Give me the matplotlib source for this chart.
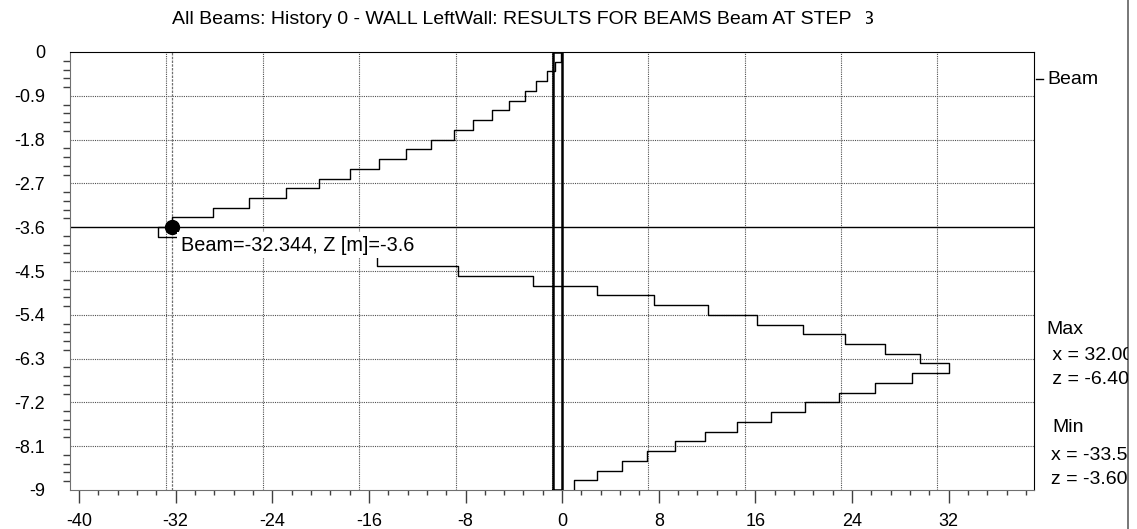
#import packages
import numpy as np
import matplotlib
matplotlib.use('Agg')
import matplotlib.pyplot as plt
from matplotlib.lines import Line2D
from matplotlib.ticker import FixedLocator, MultipleLocator
from matplotlib.transforms import Bbox, TransformedBbox

plt.rcParams['font.family'] = ['Liberation Sans', 'DejaVu Sans']
plt.rcParams['axes.unicode_minus'] = False

#element nodes along the wall (z [m]) and beam value per element
z_nodes = [0.0, -0.2, -0.4, -0.6, -0.8, -1.0, -1.2, -1.4, -1.6, -1.8,
           -2.0, -2.2, -2.4, -2.6, -2.8, -3.0, -3.2, -3.4, -3.6, -3.8,
           -4.0, -4.2, -4.4, -4.6, -4.8, -5.0, -5.2, -5.4, -5.6, -5.8,
           -6.0, -6.2, -6.4, -6.6, -6.8, -7.0, -7.2, -7.4, -7.6, -7.8,
           -8.0, -8.2, -8.4, -8.6, -8.8, -9.0]
beam_x = [-0.1, -0.58, -1.22, -2.18, -3.09, -4.39, -5.79, -7.39, -8.94, -10.84,
          -12.91, -15.2, -17.6, -20.1, -22.9, -25.9, -28.9, -32.344, -33.5, -29.0,
          -22.4, -15.3, -8.6, -2.4, 2.9, 7.64, 12.06, 16.17, 19.98, 23.45,
          26.76, 29.6, 32.0, 29.0, 25.9, 22.95, 20.1, 17.28, 14.46, 11.86,
          9.38, 7.01, 4.94, 2.92, 0.99]

#wall outline
wall_left = -0.77
wall_right = 0.0

#picked point
pick_x = -32.344
pick_z = -3.6

#ticks and grid
x_ticks = [-40, -32, -24, -16, -8, 0, 8, 16, 24, 32]
x_labels = ['-40', '-32', '-24', '-16', '-8', '0', '8', '16', '24', '32']
y_ticks = [0, -0.9, -1.8, -2.7, -3.6, -4.5, -5.4, -6.3, -7.2, -8.1, -9]
y_labels = ['0', '-0.9', '-1.8', '-2.7', '-3.6', '-4.5', '-5.4', '-6.3', '-7.2', '-8.1', '-9']
grid_x = [-32.8, -24.75, -16.8, -8.8, -0.85, 7.1, 15.1, 23.1, 31.0]

W, H = 1137, 529
fig = plt.figure(figsize=(W / 100, H / 100), dpi=100)
ax = fig.add_axes([70 / W, 39 / H, 964 / W, 438 / H])

#grid
for gx in grid_x:
    ax.axvline(gx, color='#505050', lw=0.8, ls=(0, (1, 1)), zorder=1)
for gy in y_ticks[1:-1]:
    if gy != pick_z:
        ax.axhline(gy, color='#505050', lw=0.8, ls=(0, (1, 1)), zorder=1)

#beam step curve
xs = np.repeat(beam_x, 2)
zs = np.column_stack([z_nodes[:-1], z_nodes[1:]]).ravel()
ax.plot(xs, zs, color='black', lw=1.0, zorder=3)

#wall
ax.plot([wall_left, wall_left, wall_right, wall_right, wall_left],
        [z_nodes[-1], z_nodes[0], z_nodes[0], z_nodes[-1], z_nodes[-1]],
        color='black', lw=1.8, zorder=3)

#crosshair + marker
ax.axhline(pick_z, color='black', lw=1.0, zorder=2)
ax.axvline(pick_x, color='#707070', lw=0.9, ls=(0, (2, 1)), zorder=2)
ax.plot(pick_x, pick_z, 'o', color='black', ms=10, zorder=5)
ax.annotate('Beam={:.3f}, Z [m]={:.1f}'.format(pick_x, pick_z), xy=(pick_x, pick_z),
            xytext=(9, -18), textcoords='offset pixels', ha='left', va='center',
            fontsize=14.3, zorder=6, bbox=dict(fc='white', ec='none', pad=2.6))

#axes
ax.set_xlim(-40.75, 39.07)
ax.set_ylim(-9, 0)
ax.xaxis.set_major_locator(FixedLocator(x_ticks))
ax.set_xticklabels(x_labels)
ax.xaxis.set_minor_locator(MultipleLocator(1.6))
ax.yaxis.set_major_locator(FixedLocator(y_ticks))
ax.set_yticklabels(y_labels)
ax.yaxis.set_minor_locator(MultipleLocator(0.18))
ax.tick_params(axis='x', which='major', direction='out', length=9.4, width=1, pad=7, labelsize=13, color='#404040')
ax.tick_params(axis='x', which='minor', direction='out', length=3.6, width=1, color='#404040')
ax.tick_params(axis='y', which='major', direction='out', length=0, pad=18, labelsize=13)
ax.tick_params(axis='y', which='minor', direction='out', length=5, width=1, color='#404040')
for s in ['left', 'bottom']:
    ax.spines[s].set_color('#707070')
for s in ['top', 'right']:
    ax.spines[s].set_color('black')

#title
fig.text(172 / W, 1 - 20 / H, 'All Beams: History 0 - WALL LeftWall: RESULTS FOR BEAMS Beam AT STEP',
         ha='left', va='center', fontsize=14)
t3 = fig.text(862 / W, 1 - 20 / H, '3', ha='left', va='center', fontsize=14)
t3.set_clip_box(TransformedBbox(Bbox([[866 / W, 0], [1, 1]]), fig.transFigure))
t3.set_clip_on(True)

#legend + max/min panel, clipped at the right border
clip = TransformedBbox(Bbox([[0, 0], [1128 / W, 1]]), fig.transFigure)
fig.add_artist(Line2D([1036 / W, 1043 / W], [1 - 79 / H, 1 - 79 / H], color='black', lw=1))
fig.text(1047 / W, 1 - 79 / H, 'Beam', ha='left', va='center', fontsize=14)
panel = [('Max', 1046, 330), (' x = 32.00', 1047, 356), (' z = -6.40', 1047, 379),
         ('Min', 1052, 428), ('x = -33.50', 1051, 455), ('z = -3.60', 1051, 479)]
for txt, px, py in panel:
    t = fig.text(px / W, 1 - py / H, txt, ha='left', va='center', fontsize=14)
    t.set_clip_box(clip)
    t.set_clip_on(True)
fig.add_artist(Line2D([1128 / W, 1128 / W], [0, 1], color='#606060', lw=1.2))

fig.savefig('out.png', dpi=100)
